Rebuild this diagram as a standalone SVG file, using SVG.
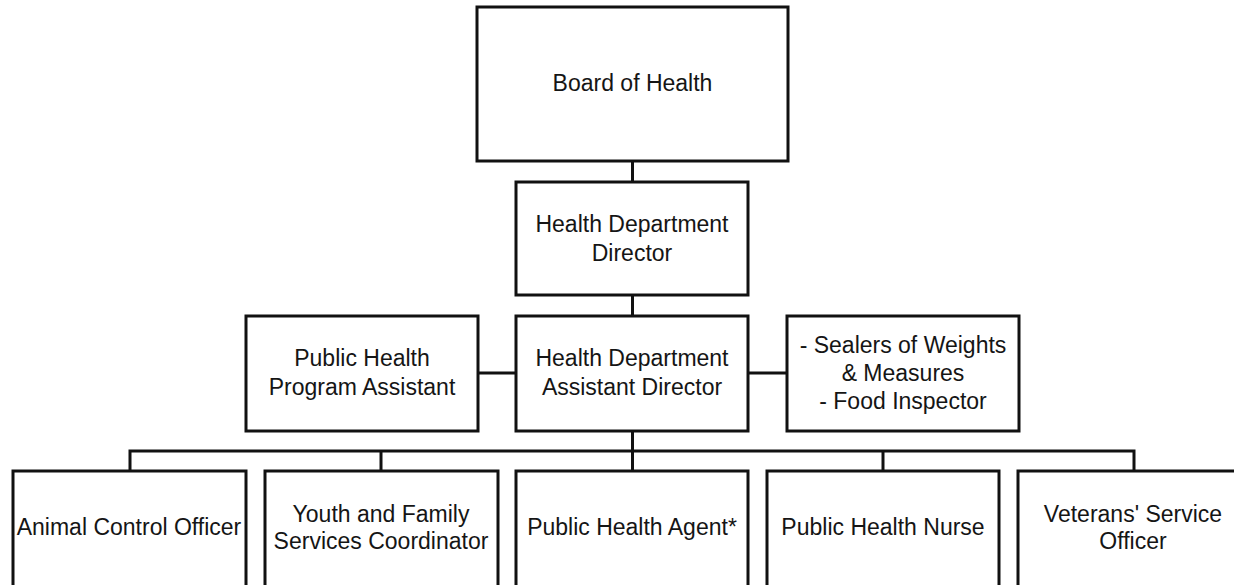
<svg xmlns="http://www.w3.org/2000/svg" width="1234" height="585" viewBox="0 0 1234 585">
<style>
.box{fill:#fff;stroke:#111;stroke-width:3}
.lbl{font-family:"Liberation Sans",Arial,sans-serif;font-size:23px;fill:#151515;text-anchor:middle}
.con{fill:none;stroke:#111;stroke-width:3}
</style>
<rect width="1234" height="585" fill="#fff"/>
<g id="connectors">
<line class="con" x1="632.5" y1="161" x2="632.5" y2="182"/>
<line class="con" x1="632.5" y1="295" x2="632.5" y2="316"/>
<line class="con" x1="478" y1="373" x2="516" y2="373"/>
<line class="con" x1="748" y1="373" x2="787" y2="373"/>
<line class="con" x1="632.5" y1="431" x2="632.5" y2="471"/>
<polyline class="con" points="130,471 130,451 1134,451 1134,471"/>
<line class="con" x1="381" y1="451" x2="381" y2="471"/>
<line class="con" x1="883" y1="451" x2="883" y2="471"/>
</g>
<g id="board">
<rect class="box" x="477" y="7" width="311" height="154"/>
<text class="lbl" x="632.5" y="91">Board of Health</text>
</g>
<g id="director">
<rect class="box" x="516" y="182" width="232" height="113"/>
<text class="lbl" x="632" y="232">Health Department</text>
<text class="lbl" x="632" y="261">Director</text>
</g>
<g id="program-assistant">
<rect class="box" x="246" y="316" width="232" height="115"/>
<text class="lbl" x="362" y="366">Public Health</text>
<text class="lbl" x="362" y="395">Program Assistant</text>
</g>
<g id="assistant-director">
<rect class="box" x="516" y="316" width="232" height="115"/>
<text class="lbl" x="632" y="366">Health Department</text>
<text class="lbl" x="632" y="395">Assistant Director</text>
</g>
<g id="sealers">
<rect class="box" x="787" y="316" width="232" height="115"/>
<text class="lbl" x="903" y="353">- Sealers of Weights</text>
<text class="lbl" x="903" y="381">&amp; Measures</text>
<text class="lbl" x="903" y="409">- Food Inspector</text>
</g>
<g id="animal-control">
<rect class="box" x="13" y="471" width="233" height="117"/>
<text class="lbl" x="129" y="535">Animal Control Officer</text>
</g>
<g id="youth-family">
<rect class="box" x="265" y="471" width="233" height="117"/>
<text class="lbl" x="381" y="522">Youth and Family</text>
<text class="lbl" x="381" y="549">Services Coordinator</text>
</g>
<g id="health-agent">
<rect class="box" x="516" y="471" width="232" height="117"/>
<text class="lbl" x="632" y="535">Public Health Agent*</text>
</g>
<g id="health-nurse">
<rect class="box" x="767" y="471" width="232" height="117"/>
<text class="lbl" x="883" y="535">Public Health Nurse</text>
</g>
<g id="veterans">
<rect class="box" x="1018" y="471" width="232" height="117"/>
<text class="lbl" x="1133" y="522">Veterans' Service</text>
<text class="lbl" x="1133" y="549">Officer</text>
</g>
</svg>
